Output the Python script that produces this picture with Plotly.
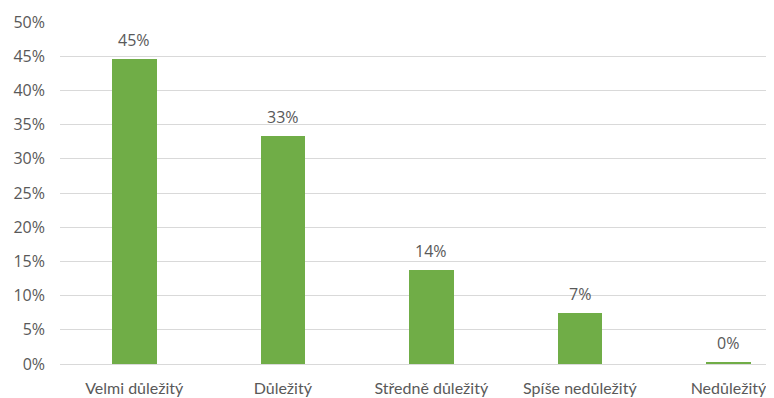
import plotly.graph_objects as go

categories = ["Velmi důležitý", "Důležitý", "Středně důležitý", "Spíše nedůležitý", "Nedůležitý"]
shares = [0.446, 0.334, 0.138, 0.074, 0.003]
y_ticks = [0, 0.05, 0.10, 0.15, 0.20, 0.25, 0.30, 0.35, 0.40, 0.45, 0.50]
y_tick_labels = ["0%", "5%", "10%", "15%", "20%", "25%", "30%", "35%", "40%", "45%", "50%"]

gray = "#595959"

fig = go.Figure(
    go.Bar(
        x=categories,
        y=shares,
        width=0.30,
        marker=dict(color="#70ad47", line=dict(width=0)),
        cliponaxis=False,
    )
)

# data labels a bit above the bars, like Excel does
for cat, val in zip(categories, shares):
    fig.add_annotation(
        x=cat,
        y=val,
        text=f"{val:.0%}",
        showarrow=False,
        yanchor="bottom",
        yshift=6,
        font=dict(size=16, color=gray),
    )

# the page body has an 8px margin, so the figure is a bit smaller than the window
fig.update_layout(
    width=766,
    height=390,
    margin=dict(l=52, r=4, t=14, b=34),
    paper_bgcolor="white",
    plot_bgcolor="white",
    font=dict(family="'Open Sans', sans-serif", size=16, color=gray),
    showlegend=False,
    bargap=0,
)
fig.update_xaxes(
    range=[-0.5, 4.28],
    automargin=False,
    showgrid=False,
    showline=False,
    ticks="",
    ticklabelstandoff=13,
    tickfont=dict(family="Lato, sans-serif", size=16, color=gray),
)
fig.update_yaxes(
    range=[0, 0.5],
    tickvals=y_ticks,
    ticktext=y_tick_labels,
    showgrid=True,
    gridcolor="#d9d9d9",
    gridwidth=1,
    zeroline=True,
    zerolinecolor="#d9d9d9",
    zerolinewidth=1,
    showline=False,
    ticks="",
    ticklabelstandoff=14,
    tickfont=dict(size=16, color=gray),
)

fig.write_html("out.html")
